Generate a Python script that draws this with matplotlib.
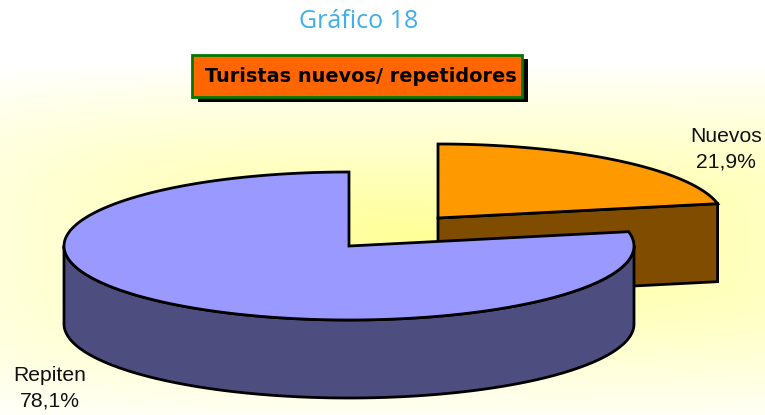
import numpy as np
import matplotlib
matplotlib.use("Agg")
import matplotlib.pyplot as plt
from matplotlib.patches import Polygon, Rectangle

labels = ["Nuevos", "Repiten"]
shares = [21.9, 78.1]
share_text = ["21,9%", "78,1%"]
top_colors = ["#FF9900", "#9999FF"]
side_colors = ["#804D00", "#4D4D80"]

W, H = 765, 415
RX, RY, DEPTH = 285, 74, 78
CENTERS = {"Nuevos": (438, 218), "Repiten": (349, 246)}


def arc(center, a0, a1, n=200):
    # angles in degrees, clockwise from 12 o'clock
    t = np.radians(np.linspace(a0, a1, n))
    return np.column_stack([center[0] + RX * np.sin(t), center[1] - RY * np.cos(t)])


fig = plt.figure(figsize=(W / 100, H / 100), dpi=100)
ax = fig.add_axes([0, 0, 1, 1])
ax.set_xlim(0, W)
ax.set_ylim(H, 0)
ax.axis("off")

# background: white top, yellow glow behind the pie, fading to all sides
yy, xx = np.mgrid[0:H, 0:W].astype(float)
v = np.where(yy < 240, (240 - yy) / 180, (yy - 240) / 195)
h = np.where(xx < 430, (430 - xx) / 430 * 0.65, (xx - 430) / 335 * 0.4)
d = np.clip((v**4 + h**4) ** (1 / 4), 0, 1)
blue = 150 + 105 * d
bg = np.dstack([np.full(blue.shape, 255.0), np.full(blue.shape, 255.0), blue]) / 255
ax.imshow(bg, extent=[0, W, H, 0], aspect="auto", zorder=0)

angle_new = shares[0] / 100 * 360
c = CENTERS["Nuevos"]
rim = arc(c, 0, angle_new)
# orange slice: cut face first, then the top
end = rim[-1]
ax.add_patch(Polygon([c, end, (end[0], end[1] + DEPTH), (c[0], c[1] + DEPTH)],
                     fc=side_colors[0], ec="black", lw=2, joinstyle="miter", zorder=2))
ax.add_patch(Polygon(np.vstack([[c], rim]), fc=top_colors[0], ec="black", lw=2,
                     joinstyle="miter", zorder=3))

# blue slice
c = CENTERS["Repiten"]
low = arc(c, 90, 270)
side = np.vstack([low, low[::-1] + [0, DEPTH]])
ax.add_patch(Polygon(side, fc=side_colors[1], ec="black", lw=2, joinstyle="round", zorder=4))
rim = arc(c, angle_new, 360)
ax.add_patch(Polygon(np.vstack([[c], rim]), fc=top_colors[1], ec="black", lw=2,
                     joinstyle="miter", zorder=5))

# title
ax.text(359, 22, "Gráfico 18", color="#3FAEEA", fontsize=18, family="Open Sans",
        ha="center", va="center", zorder=6)
ax.add_patch(Rectangle((198, 59), 330, 43, fc="black", ec="none", zorder=6))
ax.add_patch(Rectangle((192, 55), 330, 42, fc="#FF6600", ec="#007A00", lw=2, zorder=7))
ax.text(360.5, 77, "Turistas nuevos/ repetidores", color="black", fontsize=13.85,
        family="DejaVu Sans", weight="bold", ha="center", va="center", zorder=8)

# labels
ax.text(726, 149, f"{labels[0]}\n{share_text[0]}", fontsize=15.2, family="Liberation Sans",
        ha="center", va="center", color="#111111", zorder=8, linespacing=1.45)
ax.text(50, 388, f"{labels[1]}\n{share_text[1]}", fontsize=15.2, family="Liberation Sans",
        ha="center", va="center", color="#111111", zorder=8, linespacing=1.45)

fig.savefig("out.png", dpi=100)
